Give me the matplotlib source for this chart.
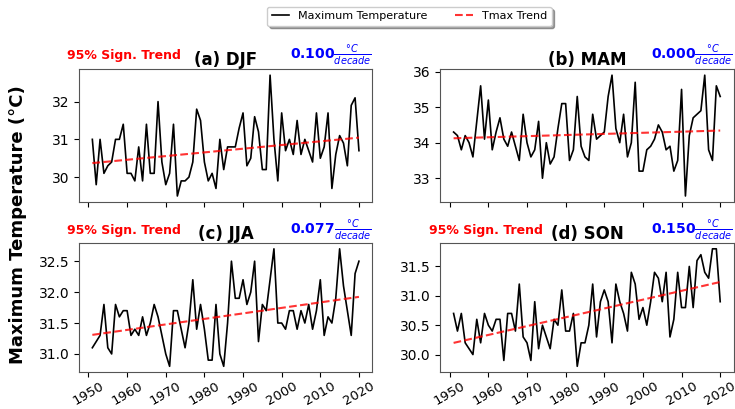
import numpy as np
from matplotlib import pyplot as plt, ticker

years = np.arange(1951, 2021)

djf = [31.0, 29.8, 31.0, 30.1, 30.3, 30.4, 31.0, 31.0, 31.4, 30.1,
       30.1, 29.9, 30.8, 29.9, 31.4, 30.1, 30.1, 32.0, 30.4, 29.8,
       30.1, 31.4, 29.5, 29.9, 29.9, 30.0, 30.4, 31.8, 31.5, 30.4,
       29.9, 30.1, 29.7, 31.0, 30.2, 30.8, 30.8, 30.8, 31.3, 31.7,
       30.3, 30.5, 31.6, 31.2, 30.2, 30.2, 32.7, 31.0, 29.9, 31.7,
       30.7, 31.0, 30.6, 31.5, 30.6, 31.0, 30.7, 30.4, 31.7, 30.5,
       30.8, 31.7, 29.7, 30.6, 31.1, 30.9, 30.3, 31.9, 32.1, 30.7]

mam = [34.3, 34.2, 33.8, 34.2, 34.0, 33.6, 34.6, 35.6, 34.1, 35.2,
       33.8, 34.3, 34.7, 34.1, 33.9, 34.3, 33.9, 33.5, 34.8, 34.0,
       33.6, 33.8, 34.6, 33.0, 34.0, 33.4, 33.6, 34.4, 35.1, 35.1,
       33.5, 33.8, 35.3, 33.9, 33.6, 33.5, 34.8, 34.1, 34.2, 34.3,
       35.3, 35.9, 34.4, 34.0, 34.8, 33.6, 34.0, 35.7, 33.2, 33.2,
       33.8, 33.9, 34.1, 34.5, 34.3, 33.8, 33.9, 33.2, 33.5, 35.5,
       32.5, 34.2, 34.7, 34.8, 34.9, 35.9, 33.8, 33.5, 35.6, 35.3]

jja = [31.1, 31.2, 31.3, 31.8, 31.1, 31.0, 31.8, 31.6, 31.7, 31.7,
       31.3, 31.4, 31.3, 31.6, 31.3, 31.5, 31.8, 31.6, 31.3, 31.0,
       30.8, 31.7, 31.7, 31.4, 31.1, 31.5, 32.2, 31.4, 31.8, 31.4,
       30.9, 30.9, 31.8, 31.0, 30.8, 31.5, 32.5, 31.9, 31.9, 32.2,
       31.8, 32.0, 32.5, 31.2, 31.8, 31.7, 32.2, 32.7, 31.5, 31.5,
       31.4, 31.7, 31.7, 31.4, 31.7, 31.5, 31.8, 31.4, 31.7, 32.2,
       31.3, 31.6, 31.5, 31.9, 32.7, 32.1, 31.7, 31.3, 32.3, 32.5]

son = [30.7, 30.4, 30.7, 30.2, 30.1, 30.0, 30.6, 30.2, 30.7, 30.5,
       30.4, 30.6, 30.6, 29.9, 30.7, 30.7, 30.4, 31.2, 30.3, 30.2,
       29.9, 30.9, 30.1, 30.5, 30.3, 30.1, 30.6, 30.5, 31.1, 30.4,
       30.4, 30.7, 29.8, 30.2, 30.2, 30.5, 31.2, 30.3, 30.9, 31.1,
       30.9, 30.2, 31.2, 30.9, 30.7, 30.4, 31.4, 31.2, 30.6, 30.8,
       30.5, 30.9, 31.4, 31.3, 30.9, 31.4, 30.3, 30.6, 31.4, 30.8,
       30.8, 31.5, 30.8, 31.6, 31.7, 31.4, 31.3, 31.8, 31.8, 30.9]

titles = ['(a) DJF', '(b) MAM', '(c) JJA', '(d) SON']
slopes = ['0.100', '0.000', '0.077', '0.150']
significant = [True, False, True, True]
ysteps = [1, 1, 0.5, 0.5]
series = [djf, mam, jja, son]

fig = plt.figure(figsize=(7.35, 4.09), dpi=100)

# axes boxes (left, bottom, width, height) in figure fraction
boxes = [[0.1075, 0.506, 0.399, 0.325],
         [0.599, 0.506, 0.399, 0.325],
         [0.1075, 0.09, 0.399, 0.316],
         [0.599, 0.09, 0.399, 0.316]]

for i in range(4):
    ax = fig.add_axes(boxes[i])
    vals = np.array(series[i])
    coef = np.polyfit(years, vals, 1)
    ax.plot(years, vals, color='black', lw=1.2, label='Maximum Temperature')
    ax.plot(years, np.polyval(coef, years), color='red', ls='--', lw=1.5,
            alpha=0.8, label='Tmax Trend')
    ax.set_xticks(np.arange(1950, 2021, 10))
    ax.yaxis.set_major_locator(ticker.MultipleLocator(ysteps[i]))
    if ysteps[i] < 1:
        ax.yaxis.set_major_formatter(ticker.FormatStrFormatter('%.1f'))
    if i < 2:
        ax.set_xticklabels([])
    else:
        plt.setp(ax.get_xticklabels(), rotation=30, fontsize=9.5)
        ax.tick_params(axis='x', pad=1.5)
    ax.tick_params(axis='y', labelsize=10)
    for sp in ax.spines.values():
        sp.set_color('#555555')
    ax.set_title(titles[i], fontsize=12, fontweight='bold', pad=3)
    if significant[i]:
        ax.text(-0.04, 1.1, '95% Sign. Trend', transform=ax.transAxes,
                color='red', fontweight='bold', fontsize=9, va='center')
    ax.text(0.72, 1.1, slopes[i] + r'$\frac{°C}{decade}$', transform=ax.transAxes,
            color='blue', fontweight='bold', fontsize=10, va='center')
    if i == 0:
        handles, labels = ax.get_legend_handles_labels()

fig.legend(handles, labels, loc='center', bbox_to_anchor=(0.557, 0.96), ncol=2,
           fontsize=8, shadow=True, handlelength=1.6, columnspacing=2.5)
fig.text(0.025, 0.45, 'Maximum Temperature (°C)', rotation=90, fontsize=13,
         fontweight='bold', ha='center', va='center')

plt.savefig('out.png', dpi=100)
